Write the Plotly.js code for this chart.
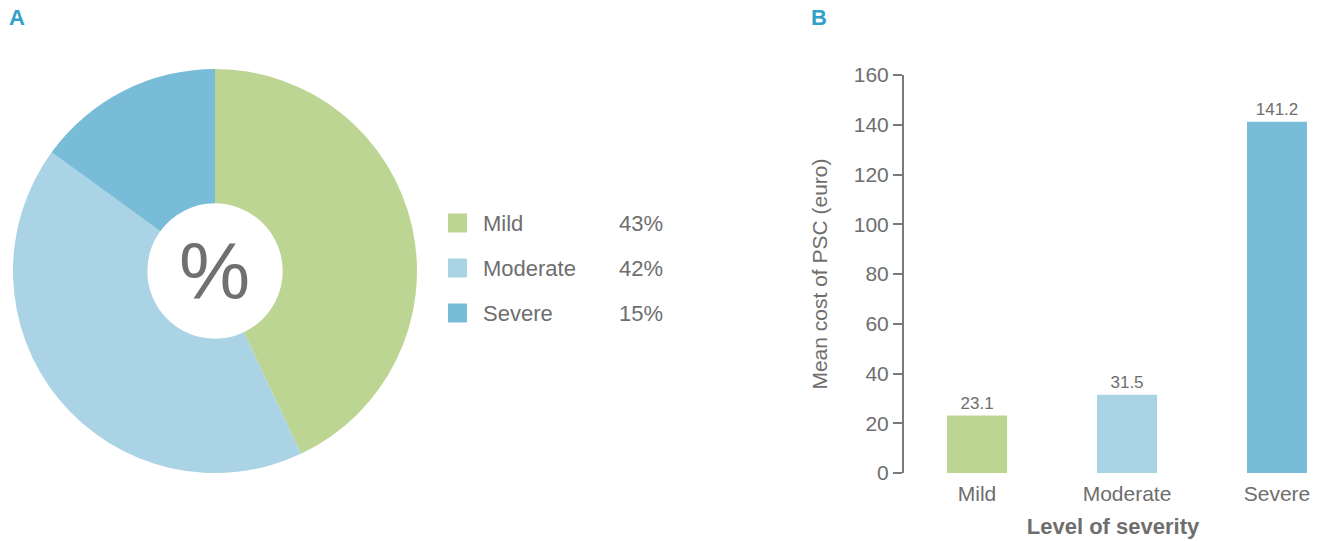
<!DOCTYPE html>
<html>
<head>
<meta charset="utf-8">
<script src="https://cdn.plot.ly/plotly-3.0.1.min.js"></script>
<style>
  html, body { margin: 0; padding: 0; background: #ffffff; }
  #chart { width: 1334px; height: 541px; }
</style>
</head>
<body>
<div id="chart"></div>
<script>
// Severity categories shared by both panels
const categories = ['Mild', 'Moderate', 'Severe'];
// Panel A: share of patients per severity level (%)
const shareValues = [43, 42, 15];
// Panel B: mean cost of PSC per severity level (euro)
const costValues = [23.1, 31.5, 141.2];
const costLabels = ['23.1', '31.5', '141.2'];
const yTicks = [0, 20, 40, 60, 80, 100, 120, 140, 160];

const colors = ['#bdd593', '#aad3e6', '#79bcd8'];
const textGray = '#6e6e6e';
const axisGray = '#7a7a7a';
const panelBlue = '#339fca';
const font = 'Liberation Sans, Arial, sans-serif';

const W = 1334, H = 541;
const px = x => x / W;
const py = y => 1 - y / H;

const pie = {
  type: 'pie',
  labels: categories,
  values: shareValues,
  sort: false,
  direction: 'clockwise',
  rotation: 0,
  hole: 0.335,
  marker: { colors: colors, line: { width: 0 } },
  textinfo: 'none',
  hoverinfo: 'label+percent',
  showlegend: false,
  domain: { x: [px(13), px(417)], y: [py(473), py(69)] }
};

const bars = {
  type: 'bar',
  x: categories,
  y: costValues,
  text: costLabels,
  textposition: 'outside',
  textfont: { family: font, size: 17, color: textGray },
  cliponaxis: false,
  width: 0.4,
  marker: { color: colors },
  showlegend: false,
  xaxis: 'x',
  yaxis: 'y'
};

// Legend for panel A: colour key, label and share
const total = shareValues.reduce((a, b) => a + b, 0);
const shapes = [];
const annotations = [];
const legendRowY = [223, 268, 313];
categories.forEach((c, i) => {
  const cy = legendRowY[i];
  shapes.push({
    type: 'rect', xref: 'paper', yref: 'paper',
    x0: px(448), x1: px(467), y0: py(cy - 9.5), y1: py(cy + 9.5),
    fillcolor: colors[i], line: { width: 0 }
  });
  annotations.push({
    xref: 'paper', yref: 'paper', x: px(481), y: py(cy),
    xanchor: 'left', yanchor: 'middle', showarrow: false,
    text: c, font: { family: font, size: 22, color: textGray }
  });
  annotations.push({
    xref: 'paper', yref: 'paper', x: px(665), y: py(cy),
    xanchor: 'right', yanchor: 'middle', showarrow: false,
    text: Math.round(shareValues[i] / total * 100) + '%',
    font: { family: font, size: 22, color: textGray }
  });
});

// Centre label of the donut
annotations.push({
  xref: 'paper', yref: 'paper', x: px(214), y: py(271),
  xanchor: 'center', yanchor: 'middle', showarrow: false,
  text: '%', font: { family: font, size: 80, color: '#707070' }
});

// Panel letters
annotations.push({
  xref: 'paper', yref: 'paper', x: px(7), y: py(18),
  xanchor: 'left', yanchor: 'middle', showarrow: false,
  text: '<b>A</b>', font: { family: font, size: 22, color: panelBlue }
});
annotations.push({
  xref: 'paper', yref: 'paper', x: px(809), y: py(18),
  xanchor: 'left', yanchor: 'middle', showarrow: false,
  text: '<b>B</b>', font: { family: font, size: 22, color: panelBlue }
});

const layout = {
  width: W, height: H,
  margin: { l: 0, r: 0, t: 0, b: 0 },
  paper_bgcolor: '#ffffff',
  plot_bgcolor: '#ffffff',
  font: { family: font, color: textGray },
  xaxis: {
    domain: [px(904), px(1322)],
    range: [-0.487, 2.3],
    showline: false, showgrid: false, zeroline: false,
    ticks: '', fixedrange: true,
    ticklabelstandoff: 6,
    tickfont: { family: font, size: 21, color: textGray },
    title: { text: '<b>Level of severity</b>', font: { family: font, size: 22, color: textGray }, standoff: 14 },
    automargin: false
  },
  yaxis: {
    domain: [py(473), py(75)],
    range: [0, 160],
    tickvals: yTicks,
    showline: true, linecolor: axisGray, linewidth: 2,
    ticks: 'outside', ticklen: 9, tickwidth: 2, tickcolor: axisGray,
    showgrid: false, zeroline: false,
    tickfont: { family: font, size: 21, color: textGray },
    title: { text: 'Mean cost of PSC (euro)', font: { family: font, size: 21, color: textGray }, standoff: 20 },
    automargin: false
  },
  shapes: shapes,
  annotations: annotations
};

Plotly.newPlot('chart', [pie, bars], layout, { displayModeBar: false, staticPlot: true });
</script>
</body>
</html>
